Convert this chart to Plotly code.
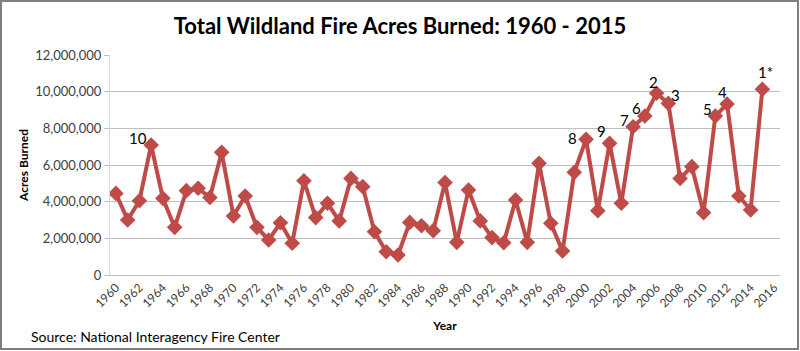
import plotly.graph_objects as go

years = list(range(1960, 2016))
acres = [4450000, 3000000, 4050000, 7090000, 4180000, 2600000, 4600000, 4730000, 4230000, 6690000,
         3220000, 4310000, 2600000, 1910000, 2850000, 1730000, 5140000, 3130000, 3910000, 2950000,
         5270000, 4820000, 2360000, 1270000, 1090000, 2870000, 2690000, 2420000, 5040000, 1780000,
         4640000, 2950000, 2040000, 1760000, 4090000, 1780000, 6090000, 2820000, 1310000, 5600000,
         7400000, 3510000, 7180000, 3910000, 8090000, 8670000, 9910000, 9360000, 5270000, 5910000,
         3400000, 8670000, 9330000, 4310000, 3550000, 10130000]
rank_years = [1963, 2000, 2002, 2004, 2005, 2006, 2007, 2011, 2012, 2015]
rank_labels = ["10", "8", "9", "7", "6", "2", "3", "5", "4", "1*"]
tick_years = list(range(1960, 2017, 2))
y_ticks = list(range(0, 12000001, 2000000))

# label offsets (pixels) relative to the marker: style only
rank_shift = [(-13, 7), (-14, 1), (-8, 12), (-9, 7), (-8, 8), (-3, 11), (7, 8), (-8, 7), (-5, 12), (3, 17)]

FONT = "Lato"
line_color = "#BE4B48"

fig = go.Figure()
fig.add_trace(go.Scatter(
    x=years, y=acres, mode="lines+markers",
    line=dict(color=line_color, width=4),
    marker=dict(symbol="diamond", size=12, color=line_color),
    hoverinfo="x+y", showlegend=False,
))

annots = []
for yr, lab, (dx, dy) in zip(rank_years, rank_labels, rank_shift):
    annots.append(dict(x=yr, y=acres[years.index(yr)], xref="x", yref="y", text=lab,
                       showarrow=False, xshift=dx, yshift=dy, xanchor="center", yanchor="middle",
                       font=dict(family=FONT, size=15, color="#000000")))
annots.append(dict(
    text="Source: National Interagency Fire Center", xref="paper", yref="paper",
    x=(29 - 110) / 670, y=(275 - 336) / 220, xanchor="left", yanchor="middle", showarrow=False,
    font=dict(family=FONT, size=14, color="#000000"),
))

fig.update_layout(
    width=800, height=351,
    margin=dict(l=110, r=20, t=55, b=76),
    paper_bgcolor="white", plot_bgcolor="white",
    font=dict(family=FONT, color="#404040", size=12),
    title=dict(text="<b>Total Wildland Fire Acres Burned: 1960 - 2015</b>",
               x=0.5, xanchor="center", y=0.925, yanchor="middle",
               font=dict(family=FONT, size=22, color="#000000")),
    xaxis=dict(
        range=[1959.5, 2016.5], tickmode="array", tickvals=tick_years,
        ticktext=[str(t) for t in tick_years], tickangle=-45,
        showgrid=False, showline=True, linecolor="#BFBFBF", linewidth=1,
        ticks="",
        tickfont=dict(family=FONT, size=12, color="#404040"),
        title=dict(text="<b>Year</b>", font=dict(family=FONT, size=12, color="#000000"), standoff=12),
        zeroline=False,
    ),
    yaxis=dict(
        range=[0, 12000000], tickmode="array", tickvals=y_ticks,
        ticktext=[f"{v:,}" for v in y_ticks],
        showgrid=True, gridcolor="#BFBFBF", gridwidth=1,
        showline=True, linecolor="#D9D9D9", linewidth=1,
        ticks="outside", ticklen=5, tickcolor="#BFBFBF",
        tickfont=dict(family=FONT, size=13, color="#404040"),
        title=dict(text="<b>Acres Burned</b>", font=dict(family=FONT, size=12, color="#000000"), standoff=3),
        zeroline=False,
    ),
    annotations=annots,
    shapes=[dict(type="rect", xref="paper", yref="paper",
                 x0=(1 - 110) / 670, x1=(798 - 110) / 670, y0=(275 - 349) / 220, y1=(275 - 1) / 220,
                 line=dict(color="#7F7F7F", width=2), fillcolor="rgba(0,0,0,0)", layer="above")],
)

fig.write_html("out.html")
